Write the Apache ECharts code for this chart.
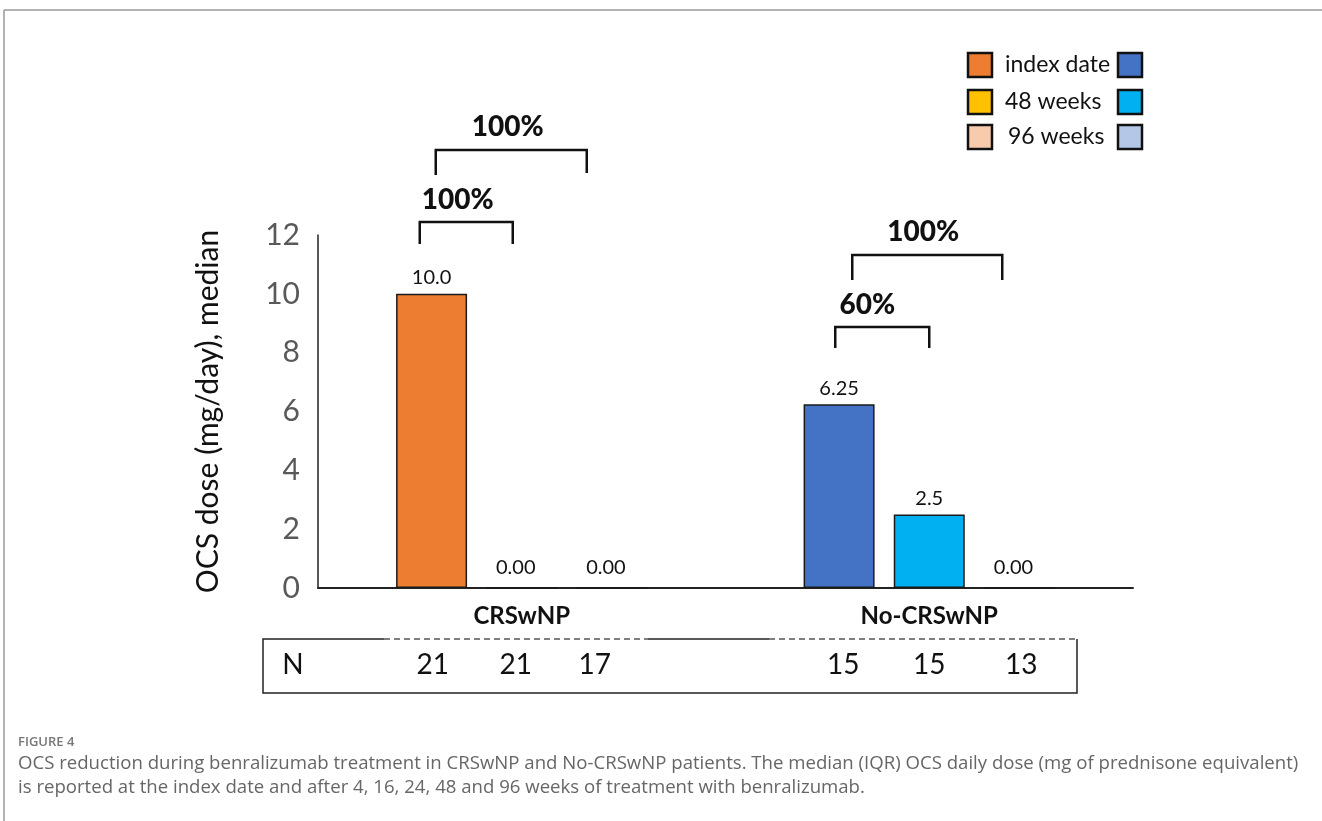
<!DOCTYPE html>
<html>
<head>
<meta charset="utf-8">
<title>OCS reduction</title>
<script src="https://cdn.jsdelivr.net/npm/echarts@6/dist/echarts.min.js"></script>
<style>
  html, body { margin: 0; padding: 0; background: #fff; }
  #chart { width: 1322px; height: 821px; }
</style>
</head>
<body>
<div id="chart"></div>
<script>
  // data
  var categories = ['CRSwNP', 'No-CRSwNP'];
  var seriesNames = ['index date', '48 weeks', '96 weeks'];
  var indexDate = [10.0, 6.25];
  var week48 = [0, 2.5];
  var week96 = [0, 0];
  var valueLabels = [['10.0', '6.25'], ['0.00', '2.5'], ['0.00', '0.00']];
  var yTicks = [0, 2, 4, 6, 8, 10, 12];
  var nCounts = [[21, 21, 17], [15, 15, 13]];
  var reductions = [['100%', '100%'], ['60%', '100%']]; // [group][short, long]

  // colours per group (CRSwNP / No-CRSwNP) for each time point
  var groupColors = [
    ['#ED7D31', '#FFC000', '#F8CBAD'],
    ['#4472C4', '#00B0F0', '#B4C7E7']
  ];

  var font = 'Lato, "Open Sans", sans-serif';
  var chart = echarts.init(document.getElementById('chart'));

  var seriesValues = [indexDate, week48, week96];
  var series = seriesValues.map(function (vals, s) {
    return {
      name: seriesNames[s],
      type: 'bar',
      barWidth: 71,
      barGap: '27%',
      data: vals.map(function (v, g) {
        return {
          value: v,
          itemStyle: { color: groupColors[g][s] },
          label: v === 0 ? { distance: 10, offset: [-6, 0] } : {}
        };
      }),
      itemStyle: { borderColor: '#1a1a1a', borderWidth: 1.5 },
      label: {
        show: true,
        position: 'top',
        distance: 6,
        fontFamily: font,
        fontSize: 20,
        color: '#111',
        formatter: function (p) { return valueLabels[s][p.dataIndex]; }
      },
      silent: true
    };
  });

  var option = {
    animation: false,
    backgroundColor: '#fff',
    grid: { left: 318, right: 189, top: 235, bottom: 233 },
    xAxis: {
      type: 'category',
      data: categories,
      axisLine: { lineStyle: { color: '#222', width: 2 } },
      axisTick: { show: false },
      axisLabel: {
        margin: 16,
        fontFamily: font,
        fontWeight: 'bold',
        fontSize: 24,
        color: '#111'
      }
    },
    yAxis: {
      type: 'value',
      min: yTicks[0],
      max: yTicks[yTicks.length - 1],
      interval: 2,
      name: 'OCS dose (mg/day), median',
      nameLocation: 'middle',
      nameRotate: 90,
      nameGap: 95,
      nameTextStyle: { fontFamily: font, fontSize: 30, color: '#111' },
      axisLine: { show: true, lineStyle: { color: '#222', width: 1.5 } },
      axisTick: { show: false },
      splitLine: { show: false },
      axisLabel: { margin: 18, fontFamily: font, fontSize: 30, color: '#595959' }
    },
    series: series
  };
  chart.setOption(option);

  // annotations anchored on the category centres
  var c = categories.map(function (cat) {
    return chart.convertToPixel({ xAxisIndex: 0 }, cat);
  });
  var g = [];

  function bracket(x1, x2, y, legY1, legY2, text, tx, ty) {
    g.push({
      type: 'polyline',
      shape: { points: [[x1, legY1], [x1, y], [x2, y], [x2, legY2]] },
      style: { stroke: '#111', lineWidth: 2.5, fill: null },
      silent: true
    });
    g.push({
      type: 'text', x: tx, y: ty,
      style: { text: text, font: '900 28px ' + font, fill: '#111', align: 'center', verticalAlign: 'middle' }
    });
  }
  bracket(c[0] - 102, c[0] - 9, 222, 244, 244, reductions[0][0], c[0] - 64, 200);
  bracket(c[0] - 86, c[0] + 65, 150, 175, 173, reductions[0][1], c[0] - 14, 127);
  bracket(c[1] - 94, c[1], 327, 348, 348, reductions[1][0], c[1] - 62, 305);
  bracket(c[1] - 77, c[1] + 73, 255, 280, 280, reductions[1][1], c[1] - 6, 232);

  // legend: two columns of swatches with shared labels
  var legendRows = [65, 102, 137];
  seriesNames.forEach(function (name, i) {
    [968, 1118].forEach(function (lx, col) {
      g.push({
        type: 'rect',
        shape: { x: lx, y: legendRows[i] - 12, width: 24, height: 24 },
        style: { fill: groupColors[col][i], stroke: '#111', lineWidth: 2.5 }
      });
    });
    g.push({
      type: 'text', x: i === 2 ? 1008 : 1005, y: legendRows[i],
      style: { text: name, font: '23px ' + font, fill: '#111', verticalAlign: 'middle' }
    });
  });

  // N table under the axis
  var boxL = 263, boxR = 1077, boxT = 639, boxB = 693;
  g.push({
    type: 'polyline',
    shape: { points: [[384, boxT], [boxL, boxT], [boxL, boxB], [boxR, boxB], [boxR, boxT]] },
    style: { stroke: '#222', lineWidth: 1.5, fill: null }
  });
  g.push({ type: 'line', shape: { x1: 648, y1: boxT, x2: 769, y2: boxT }, style: { stroke: '#222', lineWidth: 1.5 } });
  [[384, 648], [769, boxR]].forEach(function (seg) {
    g.push({
      type: 'line', shape: { x1: seg[0], y1: boxT, x2: seg[1], y2: boxT },
      style: { stroke: '#555', lineWidth: 1.5, lineDash: [6, 4] }
    });
  });
  g.push({
    type: 'text', x: 293, y: 665,
    style: { text: 'N', font: '28px ' + font, fill: '#111', align: 'center', verticalAlign: 'middle' }
  });
  var nOffsets = [[-89, -6, 73], [-86, 0, 92]];
  nCounts.forEach(function (row, gi) {
    row.forEach(function (n, k) {
      g.push({
        type: 'text', x: c[gi] + nOffsets[gi][k], y: 665,
        style: { text: String(n), font: '28px ' + font, fill: '#111', align: 'center', verticalAlign: 'middle' }
      });
    });
  });

  // figure frame and caption
  g.push({ type: 'line', shape: { x1: 4, y1: 10, x2: 1322, y2: 10 }, style: { stroke: '#999', lineWidth: 1.5 } });
  g.push({ type: 'line', shape: { x1: 4, y1: 10, x2: 4, y2: 821 }, style: { stroke: '#999', lineWidth: 1.5 } });
  var capFont = '"Open Sans", sans-serif';
  g.push({
    type: 'text', x: 18, y: 742,
    style: { text: 'FIGURE 4', font: '600 13px ' + capFont, fill: '#777', verticalAlign: 'middle' }
  });
  g.push({
    type: 'text', x: 18, y: 764,
    style: { text: 'OCS reduction during benralizumab treatment in CRSwNP and No-CRSwNP patients. The median (IQR) OCS daily dose (mg of prednisone equivalent)', font: '18.6px ' + capFont, fill: '#666', verticalAlign: 'middle' }
  });
  g.push({
    type: 'text', x: 18, y: 788,
    style: { text: 'is reported at the index date and after 4, 16, 24, 48 and 96 weeks of treatment with benralizumab.', font: '18.6px ' + capFont, fill: '#666', verticalAlign: 'middle' }
  });

  chart.setOption({ graphic: g });
</script>
</body>
</html>
